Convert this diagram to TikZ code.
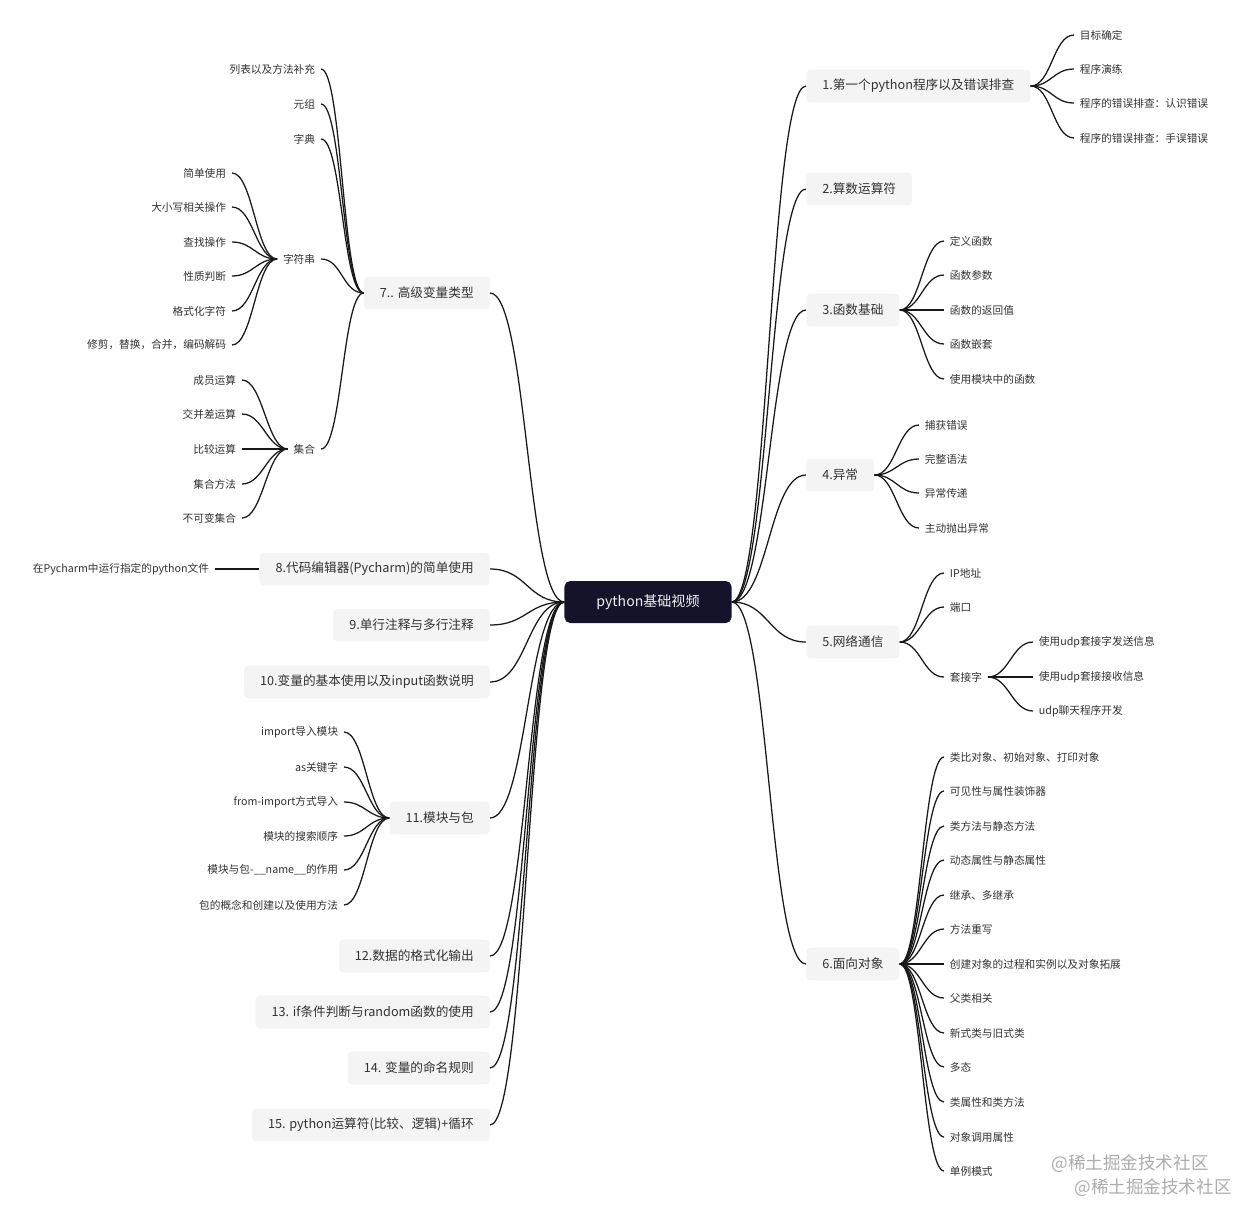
\documentclass[tikz,border=0pt]{standalone}
\usepackage{fontspec}
\setmainfont{Noto Sans CJK SC}
\usetikzlibrary{positioning}
\definecolor{rootfill}{RGB}{21,19,41}
\definecolor{topicfill}{RGB}{244,244,245}
\definecolor{inktext}{RGB}{50,50,50}
\definecolor{wmark}{RGB}{172,172,172}

\begin{document}
\begin{tikzpicture}[x=0.025cm, y=-0.025cm,
  root/.style={rectangle, rounded corners=4pt, fill=rootfill, text=white!88!gray,
    minimum width=4.175cm, minimum height=1.05cm, font=\fontsize{10}{12}\selectfont},
  topic/.style={rectangle, rounded corners=3pt, fill=topicfill, text=inktext,
    minimum height=0.82cm, inner xsep=0.4cm, font=\fontsize{9}{10.5}\selectfont},
  leaf/.style={inner xsep=4pt, inner ysep=1pt, text=inktext, font=\fontsize{7.6}{9}\selectfont},
  link/.style={draw=black!90, line width=0.9pt},
  rcurve/.style={to path={.. controls +(#1,0) and +(-#1,0) .. (\tikztotarget)}},
  rcurve/.default=21,
  lcurve/.style={to path={.. controls +(-#1,0) and +(#1,0) .. (\tikztotarget)}},
  lcurve/.default=21
]
\useasboundingbox (0,0) rectangle (1240,1205);

\node[root] (root) at (648,602) {python基础视频};

% right side
\node[topic, anchor=west] (t1) at (806,86) {1.第一个python程序以及错误排查};
\node[topic, anchor=west] (t2) at (806,189) {2.算数运算符};
\node[topic, anchor=west] (t3) at (806,310) {3.函数基础};
\node[topic, anchor=west] (t4) at (806,475) {4.异常};
\node[topic, anchor=west] (t5) at (806,642) {5.网络通信};
\node[topic, anchor=west] (t6) at (806,964) {6.面向对象};

\foreach \t in {t1,t2,t3,t4,t5,t6}
  \draw[link] (root.east) to[rcurve=37] (\t.west);

\node[leaf, anchor=west] (t1a) at (1074,35) {目标确定};
\node[leaf, anchor=west] (t1b) at (1074,69) {程序演练};
\node[leaf, anchor=west] (t1c) at (1074,103) {程序的错误排查：认识错误};
\node[leaf, anchor=west] (t1d) at (1074,138) {程序的错误排查：手误错误};
\foreach \c in {t1a,t1b,t1c,t1d}
  \draw[link] (t1.east) to[rcurve] (\c.west);

\node[leaf, anchor=west] (t3a) at (944,241) {定义函数};
\node[leaf, anchor=west] (t3b) at (944,275) {函数参数};
\node[leaf, anchor=west] (t3c) at (944,310) {函数的返回值};
\node[leaf, anchor=west] (t3d) at (944,344) {函数嵌套};
\node[leaf, anchor=west] (t3e) at (944,379) {使用模块中的函数};
\foreach \c in {t3a,t3b,t3c,t3d,t3e}
  \draw[link] (t3.east) to[rcurve] (\c.west);

\node[leaf, anchor=west] (t4a) at (919,425) {捕获错误};
\node[leaf, anchor=west] (t4b) at (919,459) {完整语法};
\node[leaf, anchor=west] (t4c) at (919,493) {异常传递};
\node[leaf, anchor=west] (t4d) at (919,528) {主动抛出异常};
\foreach \c in {t4a,t4b,t4c,t4d}
  \draw[link] (t4.east) to[rcurve] (\c.west);

\node[leaf, anchor=west] (t5a) at (944,573) {IP地址};
\node[leaf, anchor=west] (t5b) at (944,607) {端口};
\node[leaf, anchor=west] (socket) at (944,677) {套接字};
\foreach \c in {t5a,t5b,socket}
  \draw[link] (t5.east) to[rcurve] (\c.west);

\node[leaf, anchor=west] (socka) at (1033,642) {使用udp套接字发送信息};
\node[leaf, anchor=west] (sockb) at (1033,677) {使用udp套接接收信息};
\node[leaf, anchor=west] (sockc) at (1033,711) {udp聊天程序开发};
\foreach \c in {socka,sockb,sockc}
  \draw[link] (socket.east) to[rcurve] (\c.west);

\node[leaf, anchor=west] (t6a) at (944,757) {类比对象、初始对象、打印对象};
\node[leaf, anchor=west] (t6b) at (944,791) {可见性与属性装饰器};
\node[leaf, anchor=west] (t6c) at (944,826) {类方法与静态方法};
\node[leaf, anchor=west] (t6d) at (944,860) {动态属性与静态属性};
\node[leaf, anchor=west] (t6e) at (944,895) {继承、多继承};
\node[leaf, anchor=west] (t6f) at (944,929) {方法重写};
\node[leaf, anchor=west] (t6g) at (944,964) {创建对象的过程和实例以及对象拓展};
\node[leaf, anchor=west] (t6h) at (944,998) {父类相关};
\node[leaf, anchor=west] (t6i) at (944,1033) {新式类与旧式类};
\node[leaf, anchor=west] (t6j) at (944,1067) {多态};
\node[leaf, anchor=west] (t6k) at (944,1102) {类属性和类方法};
\node[leaf, anchor=west] (t6l) at (944,1137) {对象调用属性};
\node[leaf, anchor=west] (t6m) at (944,1171) {单例模式};
\foreach \c in {t6a,t6b,t6c,t6d,t6e,t6f,t6g,t6h,t6i,t6j,t6k,t6l,t6m}
  \draw[link] (t6.east) to[rcurve] (\c.west);

% left side
\node[topic, anchor=east] (t7) at (490,293) {7.. 高级变量类型};
\node[topic, anchor=east] (t8) at (490,569) {8.代码编辑器(Pycharm)的简单使用};
\node[topic, anchor=east] (t9) at (490,625) {9.单行注释与多行注释};
\node[topic, anchor=east] (t10) at (490,682) {10.变量的基本使用以及input函数说明};
\node[topic, anchor=east] (t11) at (490,818) {11.模块与包};
\node[topic, anchor=east] (t12) at (490,956) {12.数据的格式化输出};
\node[topic, anchor=east] (t13) at (490,1012) {13. if条件判断与random函数的使用};
\node[topic, anchor=east] (t14) at (490,1068) {14. 变量的命名规则};
\node[topic, anchor=east] (t15) at (490,1125) {15. python运算符(比较、逻辑)+循环};

\foreach \t in {t7,t8,t9,t10,t11,t12,t13,t14,t15}
  \draw[link] (root.west) to[lcurve=37] (\t.east);

\node[leaf, anchor=east] (t7a) at (321,69) {列表以及方法补充};
\node[leaf, anchor=east] (t7b) at (321,104) {元组};
\node[leaf, anchor=east] (t7c) at (321,139) {字典};
\node[leaf, anchor=east] (str) at (321,259) {字符串};
\node[leaf, anchor=east] (set) at (321,449) {集合};
\foreach \c in {t7a,t7b,t7c,str,set}
  \draw[link] (t7.west) to[lcurve] (\c.east);

\node[leaf, anchor=east] (stra) at (232,173) {简单使用};
\node[leaf, anchor=east] (strb) at (232,207) {大小写相关操作};
\node[leaf, anchor=east] (strc) at (232,242) {查找操作};
\node[leaf, anchor=east] (strd) at (232,276) {性质判断};
\node[leaf, anchor=east] (stre) at (232,311) {格式化字符};
\node[leaf, anchor=east] (strf) at (232,345) {修剪，替换，合并，编码解码};
\foreach \c in {stra,strb,strc,strd,stre,strf}
  \draw[link] (str.west) to[lcurve] (\c.east);

\node[leaf, anchor=east] (seta) at (242,380) {成员运算};
\node[leaf, anchor=east] (setb) at (242,414) {交并差运算};
\node[leaf, anchor=east] (setc) at (242,449) {比较运算};
\node[leaf, anchor=east] (setd) at (242,484) {集合方法};
\node[leaf, anchor=east] (sete) at (242,518) {不可变集合};
\foreach \c in {seta,setb,setc,setd,sete}
  \draw[link] (set.west) to[lcurve] (\c.east);

\node[leaf, anchor=east] (t8a) at (215,569) {在Pycharm中运行指定的python文件};
\draw[link] (t8.west) -- (t8a.east);

\node[leaf, anchor=east] (t11a) at (344,732) {import导入模块};
\node[leaf, anchor=east] (t11b) at (344,767) {as关键字};
\node[leaf, anchor=east] (t11c) at (344,802) {from-import方式导入};
\node[leaf, anchor=east] (t11d) at (344,836) {模块的搜索顺序};
\node[leaf, anchor=east] (t11e) at (344,870) {模块与包-\_\_name\_\_的作用};
\node[leaf, anchor=east] (t11f) at (344,905) {包的概念和创建以及使用方法};
\foreach \c in {t11a,t11b,t11c,t11d,t11e,t11f}
  \draw[link] (t11.west) to[lcurve] (\c.east);

\node[text=wmark, font=\fontsize{12.5}{14}\selectfont] (wm1) at (1130,1164) {@稀土掘金技术社区};
\node[text=wmark, font=\fontsize{12.5}{14}\selectfont] (wm2) at (1153,1188) {@稀土掘金技术社区};
\end{tikzpicture}
\end{document}
